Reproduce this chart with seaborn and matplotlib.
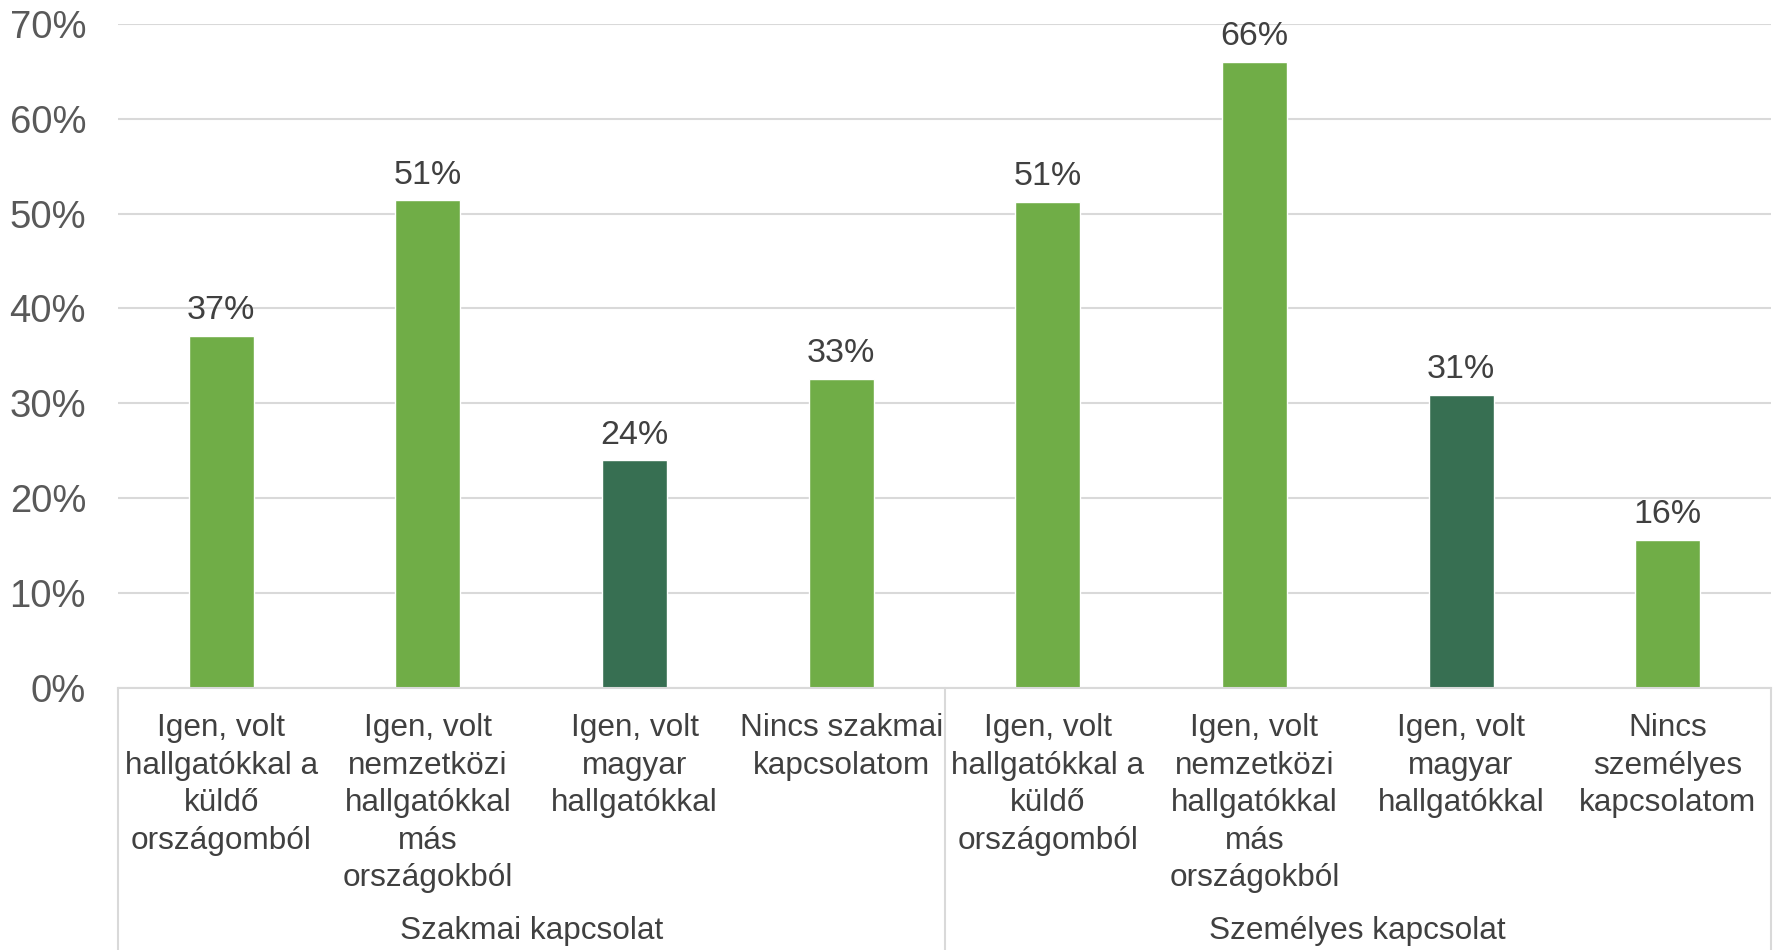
import matplotlib
matplotlib.use("Agg")
import matplotlib.pyplot as plt
import matplotlib.transforms as mtransforms
from matplotlib.ticker import FuncFormatter, MultipleLocator
import seaborn as sns
import pandas as pd

# ---- data ----
groups = ["Szakmai kapcsolat", "Személyes kapcsolat"]
categories = [
    "Igen, volt\nhallgatókkal a\nküldő\nországomból",
    "Igen, volt\nnemzetközi\nhallgatókkal\nmás\nországokból",
    "Igen, volt\nmagyar\nhallgatókkal",
    "Nincs szakmai\nkapcsolatom",
    "Igen, volt\nhallgatókkal a\nküldő\nországomból",
    "Igen, volt\nnemzetközi\nhallgatókkal\nmás\nországokból",
    "Igen, volt\nmagyar\nhallgatókkal",
    "Nincs\nszemélyes\nkapcsolatom",
]
group_of = [0, 0, 0, 0, 1, 1, 1, 1]
values = [37.1, 51.4, 24.0, 32.6, 51.2, 66.0, 30.9, 15.6]
kind = ["other", "other", "hu", "other", "other", "other", "hu", "other"]
palette = {"other": "#70AD47", "hu": "#376F52"}

df = pd.DataFrame({
    "pos": [str(i) for i in range(len(values))],
    "value": values,
    "kind": kind,
})

sns.set_theme(style="white")
plt.rcParams["font.family"] = ["Liberation Sans", "DejaVu Sans"]

W, H = 1779, 950
fig = plt.figure(figsize=(W / 100, H / 100), dpi=100)
x0, x1 = 118, 1771
y_top, y_bot = 23.7, 688
ax = fig.add_axes([x0 / W, (H - y_bot) / H, (x1 - x0) / W, (y_bot - y_top) / H])

sns.barplot(data=df, x="pos", y="value", hue="kind", palette=palette,
            dodge=False, width=0.315, ax=ax, legend=False, saturation=1)

ax.set_ylim(0, 70)
ax.set_xlim(-0.5, len(values) - 0.5)
ax.yaxis.set_major_locator(MultipleLocator(10))
ax.yaxis.set_major_formatter(FuncFormatter(lambda v, p: f"{v:.0f}%"))
ax.grid(axis="y", color="#D9D9D9", linewidth=1.5)
ax.set_axisbelow(True)
for s in ["top", "right", "left"]:
    ax.spines[s].set_visible(False)
ax.spines["bottom"].set_color("#D9D9D9")
ax.spines["bottom"].set_linewidth(1.5)

ax.tick_params(axis="y", length=0, pad=23, labelsize=27.5, labelcolor="#595959")
ax.tick_params(axis="x", length=0, pad=18, labelsize=22.7, labelcolor="#404040")
ax.set_xticks(range(len(categories)))
ax.set_xticklabels(categories, linespacing=1.33)
ax.set_xlabel("")
ax.set_ylabel("")

# data labels
for i, v in enumerate(values):
    ax.annotate(f"{round(v)}%", xy=(i, v), xytext=(0, 12), textcoords="offset points",
                ha="center", va="baseline", fontsize=24.5, color="#404040")

# group separators and labels below axis
trans = mtransforms.blended_transform_factory(ax.transAxes, ax.transAxes)
ylow = -(H - y_bot) / (y_bot - y_top)
for xa in [0.0, 0.5, 1.0]:
    ax.plot([xa, xa], [0, ylow], transform=trans, color="#D9D9D9",
            linewidth=1.5, clip_on=False)
ty = -(931.5 - y_bot) / (y_bot - y_top)
tg = mtransforms.blended_transform_factory(ax.transData, ax.transAxes)
for g, name in enumerate(groups):
    idx = [i for i, gg in enumerate(group_of) if gg == g]
    xc = (idx[0] + idx[-1]) / 2
    ax.text(xc, ty, name, transform=tg, ha="center", va="center",
            fontsize=22.7, color="#404040")

fig.savefig("out.png", dpi=100)
